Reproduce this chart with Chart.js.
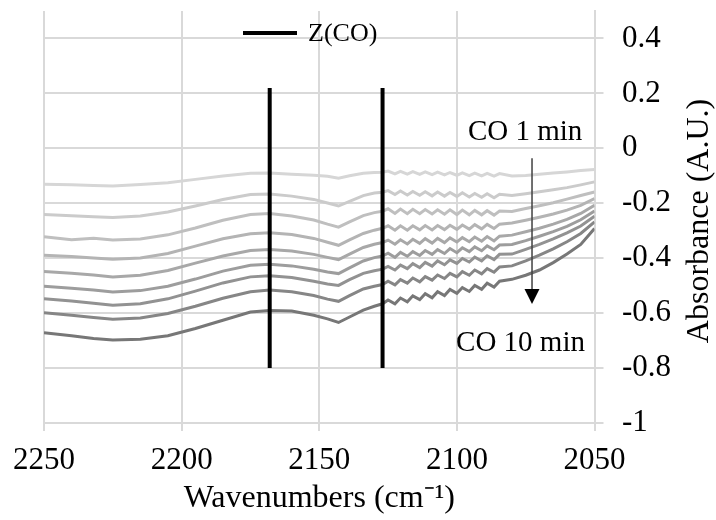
<!DOCTYPE html>
<html>
<head>
<meta charset="utf-8">
<title>CO adsorption IR spectra</title>
<script src="https://cdn.jsdelivr.net/npm/chart.js@4.4.1/dist/chart.umd.min.js"></script>
<style>
  html, body { margin: 0; padding: 0; background: #fff; }
  #wrap { width: 716px; height: 520px; }
</style>
</head>
<body>
<div id="wrap"><canvas id="irChart" width="716" height="520"></canvas></div>
<script>
// wavenumber grid shared by all spectra (cm-1)
const wavenumbers = [2250, 2240, 2232, 2225, 2215, 2205, 2195, 2185, 2175, 2168, 2160, 2152, 2147, 2143, 2139, 2134, 2130,
  2127, 2125, 2122.5, 2120.5, 2118, 2116, 2113.5, 2111.5, 2109, 2107, 2104.5, 2102.5, 2100, 2098, 2095.5, 2093.5, 2091, 2089, 2086.5, 2084.5,
  2080, 2075, 2070, 2065, 2060, 2055, 2050];

// absorbance, CO 1 min (top) ... CO 10 min (bottom)
const trace1 = [-0.131, -0.133, -0.135, -0.137, -0.132, -0.125, -0.113, -0.101, -0.091, -0.090, -0.094, -0.098, -0.102, -0.109, -0.100, -0.091, -0.088,
  -0.087, -0.083, -0.093, -0.084, -0.094, -0.085, -0.095, -0.086, -0.096, -0.087, -0.097, -0.088, -0.098, -0.089, -0.099, -0.090, -0.100, -0.091, -0.101, -0.092,
  -0.101, -0.099, -0.094, -0.090, -0.086, -0.081, -0.077];
const trace2 = [-0.241, -0.245, -0.249, -0.252, -0.246, -0.232, -0.210, -0.186, -0.168, -0.166, -0.174, -0.186, -0.199, -0.210, -0.193, -0.172, -0.163,
  -0.160, -0.154, -0.168, -0.155, -0.170, -0.157, -0.171, -0.158, -0.173, -0.159, -0.174, -0.161, -0.175, -0.162, -0.177, -0.164, -0.178, -0.165, -0.180, -0.167,
  -0.172, -0.165, -0.158, -0.151, -0.143, -0.133, -0.122];
const trace3 = [-0.322, -0.333, -0.327, -0.334, -0.330, -0.315, -0.290, -0.262, -0.241, -0.237, -0.246, -0.261, -0.276, -0.287, -0.268, -0.245, -0.234,
  -0.229, -0.220, -0.237, -0.221, -0.238, -0.222, -0.238, -0.223, -0.239, -0.224, -0.240, -0.224, -0.241, -0.225, -0.242, -0.226, -0.242, -0.227, -0.243, -0.228,
  -0.230, -0.219, -0.209, -0.198, -0.185, -0.172, -0.159];
const trace4 = [-0.389, -0.394, -0.399, -0.404, -0.399, -0.383, -0.356, -0.329, -0.311, -0.307, -0.314, -0.328, -0.342, -0.353, -0.333, -0.310, -0.298,
  -0.291, -0.282, -0.298, -0.282, -0.298, -0.282, -0.297, -0.281, -0.297, -0.281, -0.296, -0.280, -0.295, -0.279, -0.294, -0.278, -0.293, -0.277, -0.292, -0.276,
  -0.272, -0.262, -0.251, -0.239, -0.225, -0.208, -0.183];
const trace5 = [-0.448, -0.455, -0.461, -0.468, -0.462, -0.445, -0.418, -0.392, -0.372, -0.368, -0.374, -0.386, -0.397, -0.405, -0.385, -0.361, -0.349,
  -0.343, -0.334, -0.349, -0.333, -0.348, -0.331, -0.346, -0.329, -0.345, -0.328, -0.343, -0.326, -0.341, -0.325, -0.340, -0.323, -0.338, -0.321, -0.337, -0.320,
  -0.316, -0.304, -0.291, -0.276, -0.259, -0.237, -0.207];
const trace6 = [-0.502, -0.509, -0.516, -0.523, -0.518, -0.502, -0.476, -0.447, -0.426, -0.422, -0.428, -0.440, -0.450, -0.456, -0.435, -0.410, -0.398,
  -0.392, -0.382, -0.397, -0.379, -0.393, -0.376, -0.390, -0.372, -0.386, -0.369, -0.383, -0.365, -0.380, -0.362, -0.376, -0.359, -0.373, -0.355, -0.369, -0.352,
  -0.350, -0.336, -0.320, -0.303, -0.284, -0.260, -0.228];
const trace7 = [-0.548, -0.556, -0.564, -0.571, -0.566, -0.548, -0.520, -0.490, -0.468, -0.464, -0.470, -0.484, -0.494, -0.499, -0.478, -0.455, -0.446,
  -0.440, -0.430, -0.443, -0.425, -0.438, -0.420, -0.434, -0.415, -0.429, -0.410, -0.424, -0.406, -0.419, -0.401, -0.414, -0.396, -0.410, -0.391, -0.405, -0.386,
  -0.385, -0.368, -0.350, -0.330, -0.308, -0.283, -0.247];
const trace8 = [-0.599, -0.608, -0.616, -0.622, -0.618, -0.601, -0.575, -0.546, -0.522, -0.516, -0.522, -0.536, -0.549, -0.557, -0.536, -0.512, -0.502,
  -0.496, -0.484, -0.497, -0.478, -0.491, -0.472, -0.486, -0.467, -0.480, -0.461, -0.474, -0.455, -0.468, -0.449, -0.462, -0.443, -0.457, -0.438, -0.451, -0.432,
  -0.428, -0.410, -0.389, -0.366, -0.340, -0.310, -0.268];
const trace9 = [-0.671, -0.682, -0.692, -0.698, -0.695, -0.682, -0.656, -0.626, -0.596, -0.590, -0.592, -0.608, -0.621, -0.634, -0.614, -0.589, -0.575,
  -0.566, -0.552, -0.566, -0.545, -0.559, -0.537, -0.551, -0.529, -0.544, -0.522, -0.536, -0.514, -0.528, -0.507, -0.521, -0.499, -0.513, -0.491, -0.505, -0.484,
  -0.477, -0.462, -0.443, -0.416, -0.385, -0.350, -0.292];

const traces = [trace1, trace2, trace3, trace4, trace5, trace6, trace7, trace8, trace9];
const traceColors = ['#d6d6d6', '#cbcbcb', '#bfbfbf', '#b4b4b4', '#a8a8a8', '#9d9d9d', '#929292', '#868686', '#777777'];

// Z(CO) reference bands
const zcoWavenumbers = [2168, 2127];
const zcoSpan = [0.22, -0.8];

// axis ticks
const xTicks = [2250, 2200, 2150, 2100, 2050];
const yTicks = [-1, -0.8, -0.6, -0.4, -0.2, 0, 0.2, 0.4];

const FONT = "'Liberation Serif', 'Times New Roman', serif";
const GRID = '#d9d9d9';

// annotation anchors in data units
const noteFirst = { text: 'CO 1 min', x: 2096, y: 0.058 };
const noteLast = { text: 'CO 10 min', x: 2100.3, y: -0.709 };
const arrowAt = { x: 2072.7, from: -0.036, to: -0.567 };

const spectraSets = traces.map((vals, i) => ({
  label: 'trace ' + (i + 1),
  data: vals.map((v, j) => ({ x: wavenumbers[j], y: v })),
  borderColor: traceColors[i],
  borderWidth: 3,
  pointRadius: 0,
  tension: 0,
  order: 1
}));

const zcoSets = zcoWavenumbers.map(wn => ({
  label: 'Z(CO)',
  data: zcoSpan.map(v => ({ x: wn, y: v })),
  borderColor: '#000',
  backgroundColor: '#000',
  borderWidth: 4,
  pointRadius: 0,
  order: 0
}));

const overlayPlugin = {
  id: 'overlay',
  afterDraw(chart) {
    const { ctx, chartArea } = chart;
    const x = chart.scales.x, y = chart.scales.y;
    ctx.save();

    // legend
    ctx.strokeStyle = '#000';
    ctx.lineWidth = 4;
    ctx.beginPath();
    ctx.moveTo(243, 33);
    ctx.lineTo(297, 33);
    ctx.stroke();
    ctx.fillStyle = '#000';
    ctx.font = '26px ' + FONT;
    ctx.textAlign = 'left';
    ctx.textBaseline = 'middle';
    ctx.fillText(zcoSets[0].label, 308, 34);

    // notes
    ctx.font = '29px ' + FONT;
    [noteFirst, noteLast].forEach(n => {
      ctx.fillText(n.text, x.getPixelForValue(n.x), y.getPixelForValue(n.y));
    });

    // arrow
    const ax = x.getPixelForValue(arrowAt.x);
    const ay0 = y.getPixelForValue(arrowAt.from);
    const ay1 = y.getPixelForValue(arrowAt.to);
    ctx.strokeStyle = '#404040';
    ctx.lineWidth = 1.5;
    ctx.beginPath();
    ctx.moveTo(ax, ay0);
    ctx.lineTo(ax, ay1 - 12);
    ctx.stroke();
    ctx.fillStyle = '#000';
    ctx.beginPath();
    ctx.moveTo(ax - 7.5, ay1 - 15);
    ctx.lineTo(ax + 7.5, ay1 - 15);
    ctx.lineTo(ax, ay1);
    ctx.closePath();
    ctx.fill();

    // y axis title, reading bottom to top
    ctx.translate(700, (chartArea.top + chartArea.bottom) / 2 + 4);
    ctx.rotate(-Math.PI / 2);
    ctx.font = '32px ' + FONT;
    ctx.textAlign = 'center';
    ctx.fillText('Absorbance (A.U.)', 0, 0);
    ctx.restore();
  }
};

new Chart(document.getElementById('irChart'), {
  type: 'line',
  data: { datasets: [...zcoSets, ...spectraSets] },
  options: {
    responsive: false,
    animation: false,
    devicePixelRatio: 1,
    layout: { padding: { left: 44, top: 11, right: 0, bottom: 0 } },
    plugins: { legend: { display: false }, tooltip: { enabled: false } },
    scales: {
      x: {
        type: 'linear',
        reverse: true,
        min: 2050,
        max: 2250,
        afterBuildTicks: s => { s.ticks = xTicks.map(v => ({ value: v })); },
        afterFit: s => { s.height = 97; s.paddingLeft = 0; s.paddingRight = 0; },
        grid: { color: GRID, lineWidth: 2, tickLength: 8 },
        border: { color: GRID, width: 2 },
        ticks: {
          color: '#000',
          font: { family: FONT, size: 31 },
          padding: 11,
          maxRotation: 0,
          autoSkip: false,
          callback: v => String(v)
        },
        title: {
          display: true,
          text: 'Wavenumbers (cm\u207B\u00B9)',
          color: '#000',
          font: { family: FONT, size: 32 },
          padding: { top: 0, bottom: 2 }
        }
      },
      y: {
        position: 'right',
        min: -1,
        max: 0.5,
        afterBuildTicks: s => { s.ticks = yTicks.map(v => ({ value: v })); },
        afterFit: s => { s.width = 121.5; s.paddingTop = 0; s.paddingBottom = 0; },
        grid: { color: GRID, lineWidth: 2, tickLength: 9 },
        border: { color: GRID, width: 2 },
        ticks: {
          color: '#000',
          font: { family: FONT, size: 31 },
          padding: 18.5,
          callback: v => String(Number(v.toFixed(1)))
        }
      }
    }
  },
  plugins: [overlayPlugin]
});
</script>
</body>
</html>
